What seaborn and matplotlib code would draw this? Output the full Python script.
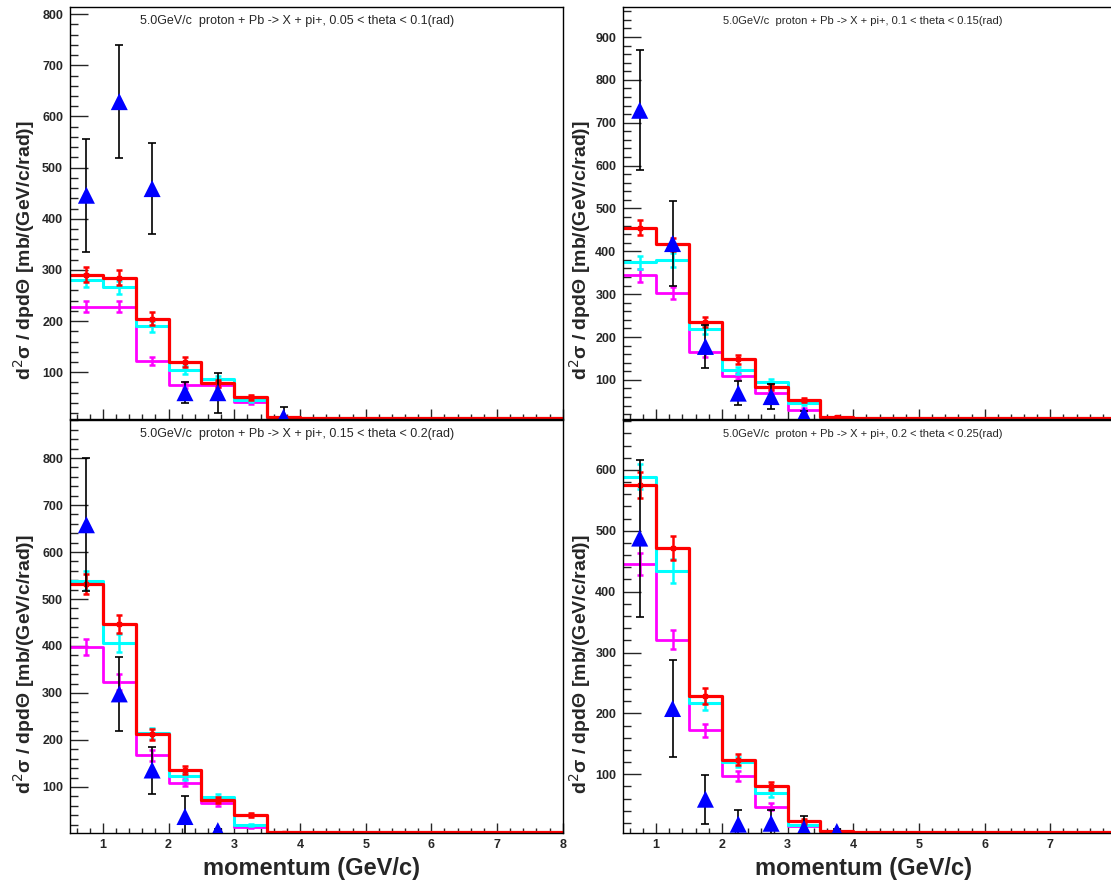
import numpy as np
import seaborn as sns
import matplotlib.pyplot as plt
from matplotlib.ticker import MultipleLocator

# bin edges in momentum (GeV/c), 0.5 wide from 0.5 to 8
edges = np.arange(0.5, 8.01, 0.5)
centers = edges[:-1] + 0.25

titles = [
    "5.0GeV/c  proton + Pb -> X + pi+, 0.05 < theta < 0.1(rad)",
    "5.0GeV/c  proton + Pb -> X + pi+, 0.1 < theta < 0.15(rad)",
    "5.0GeV/c  proton + Pb -> X + pi+, 0.15 < theta < 0.2(rad)",
    "5.0GeV/c  proton + Pb -> X + pi+, 0.2 < theta < 0.25(rad)",
]

# panel 1: 0.05 < theta < 0.1
red_1 = [291, 285, 205, 120, 78, 51, 13, 0, 0, 0, 0, 0, 0, 0, 0]
red_err_1 = [14, 14, 12, 9, 7, 5, 2, 0, 0, 0, 0, 0, 0, 0, 0]
cyan_1 = [280, 266, 190, 104, 87, 46, 2, 0, 0, 0, 0, 0, 0, 0, 0]
cyan_err_1 = [13, 13, 11, 8, 6, 4, 1, 0, 0, 0, 0, 0, 0, 0, 0]
mag_1 = [228, 228, 122, 75, 76, 41, 2, 0, 0, 0, 0, 0, 0, 0, 0]
mag_err_1 = [11, 11, 8, 6, 5, 4, 1, 0, 0, 0, 0, 0, 0, 0, 0]
data_x_1 = [0.75, 1.25, 1.75, 2.25, 2.75, 3.75]
data_y_1 = [446, 629, 459, 60, 60, 12]
data_err_1 = [110, 110, 89, 20, 39, 20]

# panel 2: 0.1 < theta < 0.15
red_2 = [455, 416, 235, 148, 84, 53, 14, 0, 0, 0, 0, 0, 0, 0, 0]
red_err_2 = [17, 16, 12, 10, 7, 5, 2, 0, 0, 0, 0, 0, 0, 0, 0]
cyan_2 = [374, 379, 218, 122, 96, 46, 3, 0, 0, 0, 0, 0, 0, 0, 0]
cyan_err_2 = [15, 16, 11, 9, 7, 4, 1, 0, 0, 0, 0, 0, 0, 0, 0]
mag_2 = [344, 302, 164, 109, 70, 30, 3, 0, 0, 0, 0, 0, 0, 0, 0]
mag_err_2 = [15, 14, 10, 8, 6, 4, 1, 0, 0, 0, 0, 0, 0, 0, 0]
data_x_2 = [0.75, 1.25, 1.75, 2.25, 2.75, 3.25]
data_y_2 = [729, 418, 178, 69, 61, 18]
data_err_2 = [140, 100, 50, 28, 29, 10]

# panel 3: 0.15 < theta < 0.2
red_3 = [532, 447, 212, 136, 72, 40, 2, 0, 0, 0, 0, 0, 0, 0, 0]
red_err_3 = [21, 20, 12, 9, 7, 5, 1, 0, 0, 0, 0, 0, 0, 0, 0]
cyan_3 = [539, 407, 214, 123, 79, 19, 1, 0, 0, 0, 0, 0, 0, 0, 0]
cyan_err_3 = [20, 19, 12, 8, 6, 3, 1, 0, 0, 0, 0, 0, 0, 0, 0]
mag_3 = [397, 323, 167, 109, 65, 15, 4, 0, 0, 0, 0, 0, 0, 0, 0]
mag_err_3 = [17, 17, 11, 8, 6, 3, 1, 0, 0, 0, 0, 0, 0, 0, 0]
data_x_3 = [0.75, 1.25, 1.75, 2.25, 2.75]
data_y_3 = [658, 298, 136, 37, 7]
data_err_3 = [142, 79, 50, 44, 4]

# panel 4: 0.2 < theta < 0.25
red_4 = [575, 472, 229, 124, 81, 23, 6, 0, 0, 0, 0, 0, 0, 0, 0]
red_err_4 = [21, 20, 13, 9, 7, 4, 2, 0, 0, 0, 0, 0, 0, 0, 0]
cyan_4 = [589, 434, 217, 120, 69, 17, 3, 0, 0, 0, 0, 0, 0, 0, 0]
cyan_err_4 = [20, 19, 12, 8, 6, 3, 1, 0, 0, 0, 0, 0, 0, 0, 0]
mag_4 = [446, 321, 172, 97, 47, 15, 3, 0, 0, 0, 0, 0, 0, 0, 0]
mag_err_4 = [18, 16, 11, 8, 6, 3, 1, 0, 0, 0, 0, 0, 0, 0, 0]
data_x_4 = [0.75, 1.25, 1.75, 2.25, 2.75, 3.25, 3.75]
data_y_4 = [488, 208, 59, 18, 19.5, 11, 6]
data_err_4 = [129, 79, 40, 23, 22, 21, 4]

ylims = [(8, 814), (8, 970), (1.3, 881), (3, 682)]

sns.set_style('ticks')
plt.rcParams['font.family'] = ['Liberation Sans', 'DejaVu Sans']

fig = plt.figure(figsize=(11.11, 8.81), dpi=100)
W, H = 1111, 881
PX = 65.7  # pixels per GeV/c
boxes = [
    (70, 7, 419.3, 8.0),
    (623.3, 7, 419.3, 7.95),
    (70, 420, 833.3, 8.0),
    (623.3, 420, 833.3, 7.95),
]
axes = []
for (x0, ytop, ybot, xmax) in boxes:
    axes.append(fig.add_axes([x0 / W, 1 - ybot / H, (xmax - 0.5) * PX / W, (ybot - ytop) / H]))

panels = [
    (red_1, red_err_1, cyan_1, cyan_err_1, mag_1, mag_err_1, data_x_1, data_y_1, data_err_1),
    (red_2, red_err_2, cyan_2, cyan_err_2, mag_2, mag_err_2, data_x_2, data_y_2, data_err_2),
    (red_3, red_err_3, cyan_3, cyan_err_3, mag_3, mag_err_3, data_x_3, data_y_3, data_err_3),
    (red_4, red_err_4, cyan_4, cyan_err_4, mag_4, mag_err_4, data_x_4, data_y_4, data_err_4),
]

ylabel = "d$^{2}$σ / dpdΘ [mb/(GeV/c/rad)]"

for i, ax in enumerate(axes):
    red, red_err, cyan, cyan_err, mag, mag_err, dx, dy, derr = panels[i]
    ylo, yhi = ylims[i]
    floor = ylo + (yhi - ylo) * 0.004

    for vals, errs, col, lw in [(mag, mag_err, '#ff00ff', 2.0),
                                (cyan, cyan_err, '#00ffff', 2.2),
                                (red, red_err, '#ff0000', 2.3)]:
        v = np.maximum(np.array(vals, dtype=float), floor)
        sns.lineplot(x=edges, y=np.append(v, v[-1]), drawstyle='steps-post',
                     color=col, lw=lw, ax=ax, estimator=None, sort=False)
        nz = np.array(vals) > 0
        ax.errorbar(centers[nz], np.array(vals)[nz], yerr=np.array(errs)[nz],
                    fmt='none', ecolor=col, elinewidth=1.8, capsize=2.5, capthick=1.8)
    nz = np.array(red) > 0
    ax.plot(centers[nz], np.array(red)[nz], 's', ms=3.2, color='#ff0000')

    ax.errorbar(dx, dy, yerr=derr, fmt='none', ecolor='black', elinewidth=1.2,
                capsize=3, capthick=1.2, zorder=5)
    sns.scatterplot(x=dx, y=dy, marker='^', s=150, color='#0000ff',
                    edgecolor='none', ax=ax, zorder=6)

    ax.set_xlim(0.5, boxes[i][3])
    ax.set_ylim(ylo, yhi)
    ax.xaxis.set_major_locator(MultipleLocator(1))
    ax.xaxis.set_minor_locator(MultipleLocator(0.2))
    ax.yaxis.set_major_locator(MultipleLocator(100))
    ax.yaxis.set_minor_locator(MultipleLocator(20))
    ax.tick_params(axis='x', which='major', direction='in', length=7, width=1, pad=4)
    ax.tick_params(axis='x', which='minor', direction='in', length=3.5, width=1)
    ax.tick_params(axis='y', which='major', direction='in', length=13, width=1, pad=5)
    ax.tick_params(axis='y', which='minor', direction='in', length=6, width=1)
    for lab in ax.get_xticklabels() + ax.get_yticklabels():
        lab.set_fontweight('bold')
        lab.set_fontsize(9)
    for sp in ax.spines.values():
        sp.set_linewidth(1)
        sp.set_color('black')

    left = i % 2 == 0
    ax.text(0.46 if left else 0.49, 0.966, titles[i], transform=ax.transAxes,
            ha='center', va='center', fontsize=9 if left else 8)

    ax.set_ylabel(ylabel, fontsize=14, fontweight='bold')
    ax.yaxis.set_label_coords(-0.066 if left else -0.062, 0.41)
    if i < 2:
        ax.tick_params(axis='x', labelbottom=False)
        ax.set_xlabel('')
    else:
        ax.set_xlabel('momentum (GeV/c)', fontsize=17, fontweight='bold')
        ax.xaxis.set_label_coords(0.49, -0.058)

fig.savefig('out.png', dpi=100)
